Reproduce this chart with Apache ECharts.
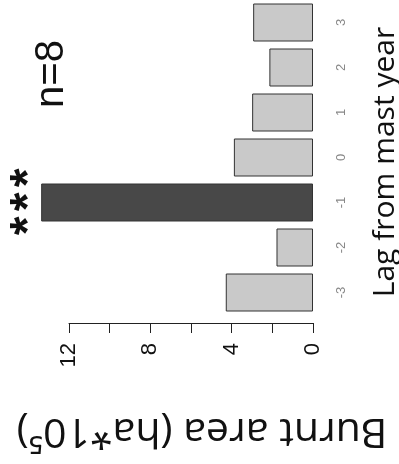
<!DOCTYPE html>
<html>
<head>
<meta charset="utf-8">
<script src="https://cdn.jsdelivr.net/npm/echarts@6/dist/echarts.min.js"></script>
<style>
    html, body { margin: 0; padding: 0; background: #fff; }
    #chart { width: 399px; height: 464px; }
</style>
</head>
<body>
<div id="chart"></div>
<script>
// 막대 데이터 (원본 그림은 90도 회전되어 있음)
var lagLabels = ['-3', '-2', '-1', '0', '1', '2', '3'];
var burntArea = [4.3, 1.8, 13.4, 3.9, 3.0, 2.15, 2.95];
var highlightLag = '-1';
var valueTicks = [0, 4, 8, 12];

var chart = echarts.init(document.getElementById('chart'));

// 유의성 별표 (세 개를 따로 배치)
var starY = [178, 202, 226];
var stars = starY.map(function(y) {
    return {
        type: 'text',
        x: 30, y: y,
        rotation: Math.PI / 2,
        style: {
            text: '*',
            fontSize: 48,
            fontWeight: 'bold',
            fontFamily: '"Liberation Sans", Arial, sans-serif',
            fill: '#111',
            align: 'center',
            verticalAlign: 'middle'
        }
    };
});

var option = {
    animation: false,
    backgroundColor: '#ffffff',
    grid: [
        { left: 29, right: 86, top: -3, height: 318 },
        { left: 69, right: 86, top: -3, height: 326 }
    ],
    xAxis: [
        {
            type: 'value',
            gridIndex: 0,
            inverse: true,
            min: 0,
            max: 14,
            axisLine: { show: false },
            axisTick: { show: false },
            axisLabel: { show: false },
            splitLine: { show: false }
        },
        {
            type: 'value',
            gridIndex: 1,
            inverse: true,
            min: 0,
            max: 12,
            interval: 2,
            position: 'bottom',
            axisLine: { show: true, lineStyle: { color: '#222', width: 1 } },
            axisTick: { show: true, length: 10, lineStyle: { color: '#222' } },
            axisLabel: {
                rotate: 90,
                margin: 20,
                fontSize: 22,
                fontFamily: '"Liberation Sans", Arial, sans-serif',
                color: '#111',
                formatter: function(v) {
                    return valueTicks.indexOf(v) >= 0 ? String(v) : '';
                }
            },
            splitLine: { show: false }
        }
    ],
    yAxis: [
        {
            type: 'category',
            gridIndex: 0,
            position: 'right',
            data: lagLabels,
            axisLine: { show: false },
            axisTick: { show: false },
            axisLabel: {
                rotate: 90,
                margin: 22,
                fontSize: 13,
                fontFamily: '"Liberation Sans", Arial, sans-serif',
                color: '#888'
            }
        },
        {
            type: 'value',
            gridIndex: 1,
            show: false
        }
    ],
    series: [{
        type: 'bar',
        xAxisIndex: 0,
        yAxisIndex: 0,
        barWidth: 38,
        data: burntArea.map(function(v, i) {
            var dark = lagLabels[i] === highlightLag;
            return {
                value: v,
                itemStyle: {
                    color: dark ? '#484848' : '#c9c9c9',
                    borderColor: '#333',
                    borderWidth: 1
                }
            };
        })
    }],
    graphic: [
        {
            type: 'text',
            x: 385, y: 162,
            rotation: Math.PI / 2,
            style: {
                text: 'Lag from mast year',
                fontSize: 30,
                fontFamily: '"Open Sans", sans-serif',
                fill: '#111',
                align: 'center',
                verticalAlign: 'middle'
            }
        },
        {
            type: 'text',
            x: 202, y: 431,
            rotation: Math.PI,
            style: {
                text: 'Burnt area (ha*10⁵)',
                fontSize: 41,
                fontFamily: '"Open Sans", sans-serif',
                fill: '#111',
                align: 'center',
                verticalAlign: 'middle'
            }
        },
        {
            type: 'text',
            x: 52, y: 74,
            rotation: Math.PI / 2,
            style: {
                text: 'n=8',
                fontSize: 40,
                fontFamily: '"Liberation Sans", Arial, sans-serif',
                fill: '#111',
                align: 'center',
                verticalAlign: 'middle'
            }
        }
    ].concat(stars)
};

chart.setOption(option);
</script>
</body>
</html>
